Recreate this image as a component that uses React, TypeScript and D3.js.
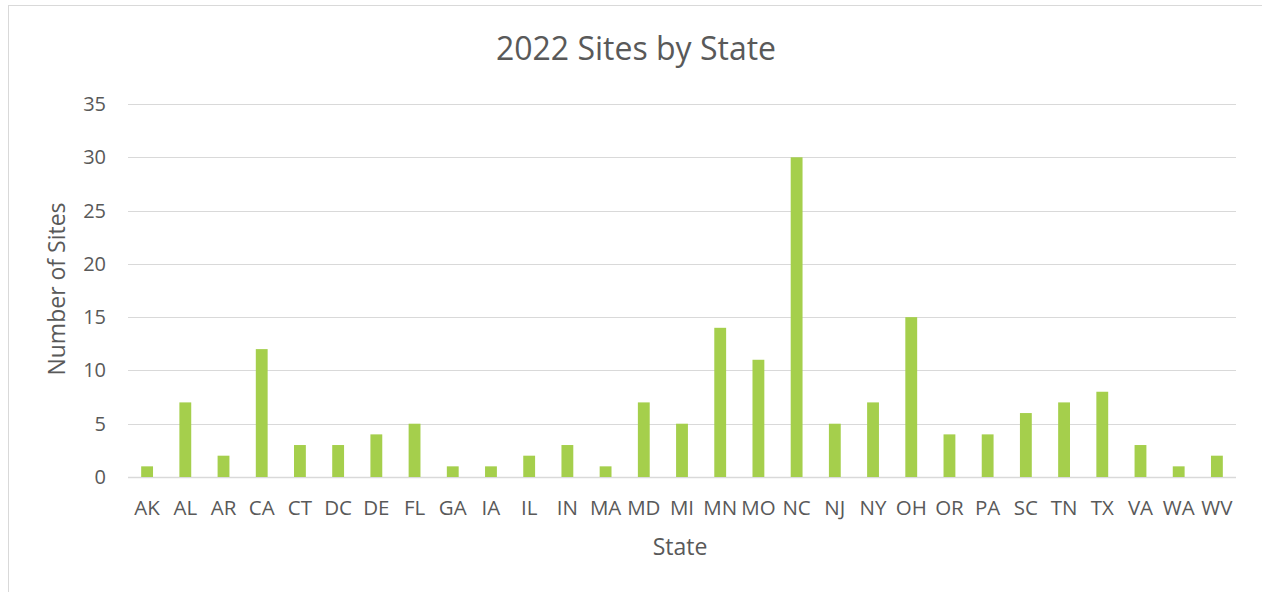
import { useEffect, useRef } from "react";
import * as d3 from "d3";

const states = ["AK", "AL", "AR", "CA", "CT", "DC", "DE", "FL", "GA", "IA", "IL", "IN", "MA", "MD", "MI", "MN", "MO", "NC", "NJ", "NY", "OH", "OR", "PA", "SC", "TN", "TX", "VA", "WA", "WV"];
const sites = [1, 7, 2, 12, 3, 3, 4, 5, 1, 1, 2, 3, 1, 7, 5, 14, 11, 30, 5, 7, 15, 4, 4, 6, 7, 8, 3, 1, 2];
const yTicks = [0, 5, 10, 15, 20, 25, 30, 35];

const App = () => {
  const svgRef = useRef<SVGSVGElement>(null);

  useEffect(() => {
    if (!svgRef.current) return;
    const svg = d3.select(svgRef.current);
    svg.selectAll("*").remove();
    const font = "'Open Sans', sans-serif";
    const textColor = "#595959";
    const left = 128;
    const right = 1236;
    const top = 104;
    const bottom = 477;

    svg
      .append("rect")
      .attr("x", 8.5)
      .attr("y", 5.5)
      .attr("width", 1300)
      .attr("height", 700)
      .attr("fill", "#fff")
      .attr("stroke", "#d9d9d9");

    const x = d3.scaleBand<string>().domain(states).range([left, right]).paddingInner(0.69).paddingOuter(0.345);
    const y = d3.scaleLinear().domain([0, 35]).range([bottom, top]);

    svg
      .append("g")
      .selectAll("line")
      .data(yTicks)
      .enter()
      .append("line")
      .attr("x1", left)
      .attr("x2", right)
      .attr("y1", d => Math.round(y(d)) + 0.5)
      .attr("y2", d => Math.round(y(d)) + 0.5)
      .attr("stroke", "#d9d9d9")
      .attr("stroke-width", d => (d === 0 ? 1.5 : 1));

    svg
      .append("g")
      .selectAll("text")
      .data(yTicks)
      .enter()
      .append("text")
      .attr("x", 106)
      .attr("y", d => y(d))
      .attr("dy", "0.35em")
      .attr("text-anchor", "end")
      .attr("font-family", font)
      .attr("font-size", 20)
      .attr("fill", textColor)
      .text(d => d);

    svg
      .append("g")
      .selectAll("rect")
      .data(sites)
      .enter()
      .append("rect")
      .attr("x", (_, i) => x(states[i]) as number)
      .attr("y", d => y(d))
      .attr("width", x.bandwidth())
      .attr("height", d => bottom - y(d))
      .attr("fill", "#a5cf4c");

    svg
      .append("g")
      .selectAll("text")
      .data(states)
      .enter()
      .append("text")
      .attr("x", d => (x(d) as number) + x.bandwidth() / 2)
      .attr("y", 515)
      .attr("text-anchor", "middle")
      .attr("font-family", font)
      .attr("font-size", 20.5)
      .attr("fill", textColor)
      .text(d => d);

    svg
      .append("text")
      .attr("x", 636)
      .attr("y", 60)
      .attr("text-anchor", "middle")
      .attr("font-family", font)
      .attr("font-size", 32)
      .attr("fill", textColor)
      .text("2022 Sites by State");

    svg
      .append("text")
      .attr("x", 680)
      .attr("y", 547)
      .attr("dy", "0.35em")
      .attr("text-anchor", "middle")
      .attr("font-family", font)
      .attr("font-size", 23)
      .attr("fill", textColor)
      .text("State");

    svg
      .append("text")
      .attr("transform", `translate(57,289) rotate(-90)`)
      .attr("dy", "0.35em")
      .attr("text-anchor", "middle")
      .attr("font-family", font)
      .attr("font-size", 23)
      .attr("fill", textColor)
      .text("Number of Sites");
  }, []);

  return (
    <svg
      ref={svgRef}
      width={1262}
      height={592}
      style={{ position: "absolute", left: 0, top: 0, display: "block" }}
    />
  );
};

export default App;
